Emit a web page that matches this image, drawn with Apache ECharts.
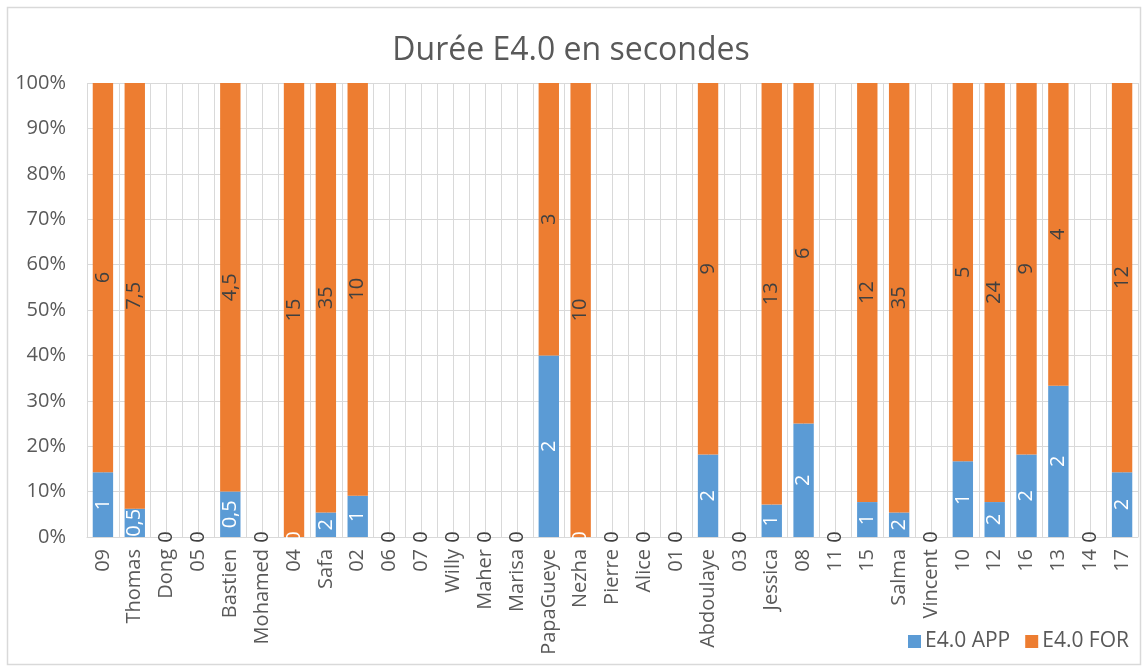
<!DOCTYPE html>
<html>
<head>
<meta charset="utf-8">
<title>Durée E4.0 en secondes</title>
<script src="https://cdn.jsdelivr.net/npm/echarts@6/dist/echarts.min.js"></script>
<style>
  html, body { margin: 0; padding: 0; background: #fff; }
  #chart { width: 1142px; height: 666px; }
</style>
</head>
<body>
<div id="chart"></div>
<script>
// Participants, in display order
const categories = [
  '09', 'Thomas', 'Dong', '05', 'Bastien', 'Mohamed', '04', 'Safa', '02', '06', '07',
  'Willy', 'Maher', 'Marisa', 'PapaGueye', 'Nezha', 'Pierre', 'Alice', '01', 'Abdoulaye',
  '03', 'Jessica', '08', '11', '15', 'Salma', 'Vincent', '10', '12', '16', '13', '14', '17'
];

// Durations in seconds
const appValues = [
  1, 0.5, 0, 0, 0.5, 0, 0, 2, 1, 0, 0,
  0, 0, 0, 2, 0, 0, 0, 0, 2,
  0, 1, 2, 0, 1, 2, 0, 1, 2, 2, 2, 0, 2
];
const forValues = [
  6, 7.5, 0, 0, 4.5, 0, 15, 35, 10, 0, 0,
  0, 0, 0, 3, 10, 0, 0, 0, 9,
  0, 13, 6, 0, 12, 35, 0, 5, 24, 9, 4, 0, 12
];

const yTicks = [0, 10, 20, 30, 40, 50, 60, 70, 80, 90, 100];

// Share of each series in the per-participant total (100% stacked)
function share(values, i) {
  const total = appValues[i] + forValues[i];
  return total > 0 ? values[i] / total * 100 : 0;
}
const appShare = appValues.map((_, i) => share(appValues, i));
const forShare = forValues.map((_, i) => share(forValues, i));

const fmt = v => String(v).replace('.', ',');
const FONT = '"Open Sans", "Noto Sans", sans-serif';
const TEXT = '#595959';
const GRID = '#d9d9d9';

// Half-category slots, used only for the vertical grid lines
const halfSlots = Array.from({ length: categories.length * 2 }, () => '');

const chart = echarts.init(document.getElementById('chart'), null, { renderer: 'canvas' });
chart.setOption({
  animation: false,
  backgroundColor: '#ffffff',
  textStyle: { fontFamily: FONT },
  title: {
    text: 'Durée E4.0 en secondes',
    left: 'center',
    top: 30,
    textStyle: { fontFamily: FONT, fontSize: 32, fontWeight: 'normal', color: TEXT }
  },
  legend: {
    right: 8,
    top: 626,
    itemWidth: 13,
    itemHeight: 13,
    itemGap: 15,
    icon: 'rect',
    textStyle: { fontFamily: FONT, fontSize: 21, color: TEXT, padding: [0, 0, 0, -1] },
    data: ['E4.0 APP', 'E4.0 FOR']
  },
  graphic: [{
    type: 'rect',
    shape: { x: 7.5, y: 7.5, width: 1133, height: 657 },
    style: { fill: 'none', stroke: GRID, lineWidth: 1.5 },
    silent: true
  }],
  grid: { left: 87, right: 4, top: 83, bottom: 129 },
  xAxis: [{
    type: 'category',
    data: categories,
    axisLine: { show: true, lineStyle: { color: GRID } },
    axisTick: { show: false },
    splitLine: { show: false },
    axisLabel: {
      rotate: 90,
      interval: 0,
      margin: 12,
      fontFamily: FONT,
      fontSize: 20,
      color: TEXT
    }
  }, {
    type: 'category',
    data: halfSlots,
    position: 'bottom',
    axisLine: { show: false },
    axisTick: { show: false },
    axisLabel: { show: false },
    splitLine: { show: true, interval: 0, lineStyle: { color: GRID, width: 1 } }
  }],
  yAxis: {
    type: 'value',
    min: yTicks[0],
    max: yTicks[yTicks.length - 1],
    interval: yTicks[1] - yTicks[0],
    axisLine: { show: false },
    axisTick: { show: false },
    splitLine: { show: true, lineStyle: { color: GRID, width: 1 } },
    axisLabel: {
      margin: 21,
      fontFamily: FONT,
      fontSize: 20,
      color: TEXT,
      formatter: '{value}%'
    }
  },
  series: [{
    name: 'E4.0 APP',
    type: 'bar',
    stack: 'total',
    xAxisIndex: 0,
    barCategoryGap: '36%',
    data: appShare,
    itemStyle: { color: '#5b9bd5' },
    label: {
      show: true,
      position: 'inside',
      rotate: 90,
      fontFamily: FONT,
      fontSize: 20,
      color: '#ffffff',
      formatter: p => fmt(appValues[p.dataIndex])
    }
  }, {
    name: 'E4.0 FOR',
    type: 'bar',
    stack: 'total',
    xAxisIndex: 0,
    barCategoryGap: '36%',
    data: forShare,
    itemStyle: { color: '#ed7d31' },
    label: {
      show: true,
      position: 'inside',
      rotate: 90,
      fontFamily: FONT,
      fontSize: 20,
      color: '#404040',
      formatter: p => fmt(forValues[p.dataIndex])
    }
  }]
});
</script>
</body>
</html>
